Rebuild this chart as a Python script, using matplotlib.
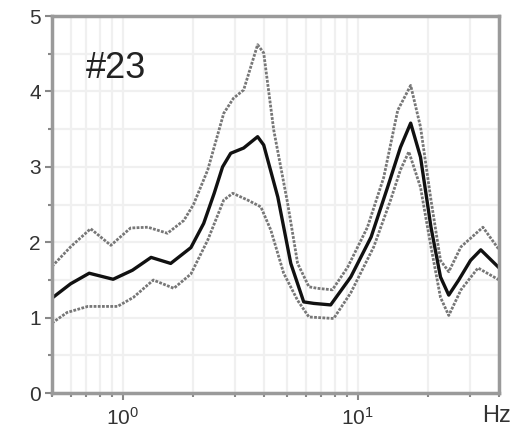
import matplotlib.pyplot as plt
import numpy as np
from matplotlib.ticker import MultipleLocator, LogLocator, NullFormatter

plt.rcParams['font.family'] = ['Liberation Sans', 'DejaVu Sans']

# mean H/V curve
f_mean = [0.5, 0.6, 0.72, 0.91, 1.1, 1.32, 1.6, 1.95, 2.21, 2.45, 2.66, 2.88, 3.27,
          3.75, 3.98, 4.57, 5.19, 5.89, 6.5, 7.67, 9.34, 11.4, 13.4, 15.2, 16.8,
          18.5, 20.5, 22.5, 24.4, 26.9, 30.2, 33.4, 40]
a_mean = [1.26, 1.45, 1.59, 1.51, 1.63, 1.80, 1.72, 1.93, 2.25, 2.65, 3.00, 3.18, 3.25,
          3.40, 3.29, 2.60, 1.72, 1.21, 1.19, 1.17, 1.54, 2.07, 2.73, 3.26, 3.58,
          3.13, 2.20, 1.54, 1.30, 1.50, 1.76, 1.90, 1.66]

# mean + std
f_up = [0.5, 0.6, 0.73, 0.89, 1.08, 1.28, 1.55, 1.82, 2.0, 2.3, 2.69, 2.96, 3.27,
        3.75, 3.98, 4.39, 5.03, 5.55, 6.2, 6.74, 7.8, 9.06, 11.0, 12.9, 14.8,
        16.8, 18.5, 20.5, 22.5, 24.4, 27.5, 34.1, 40]
a_up = [1.68, 1.94, 2.18, 1.96, 2.19, 2.20, 2.12, 2.29, 2.50, 2.96, 3.71, 3.91, 4.02,
        4.62, 4.51, 3.49, 2.52, 1.72, 1.41, 1.39, 1.37, 1.67, 2.20, 2.86, 3.75,
        4.08, 3.53, 2.56, 1.76, 1.61, 1.94, 2.20, 1.90]

# mean - std
f_lo = [0.5, 0.58, 0.71, 0.95, 1.11, 1.35, 1.65, 1.95, 2.3, 2.69, 2.94, 3.4, 3.87,
        4.27, 4.84, 5.55, 6.2, 7.9, 9.34, 11.7, 13.8, 15.2, 16.5, 18.5, 20.5,
        22.5, 24.4, 27.5, 32.5, 40]
a_lo = [0.93, 1.07, 1.15, 1.15, 1.27, 1.50, 1.39, 1.58, 2.03, 2.56, 2.65, 2.56, 2.47,
        2.16, 1.59, 1.23, 1.01, 0.99, 1.33, 1.94, 2.56, 2.96, 3.20, 2.73, 1.94,
        1.27, 1.03, 1.37, 1.66, 1.50]

fig = plt.figure(figsize=(5.2, 4.33), dpi=100)
ax = fig.add_axes([0.1, 0.092, 0.86, 0.871])

ax.plot(f_up, a_up, color='#777777', lw=2.0, ls=(0, (1, 0.5)), solid_joinstyle='round')
ax.plot(f_lo, a_lo, color='#777777', lw=2.0, ls=(0, (1, 0.5)), solid_joinstyle='round')
ax.plot(f_mean, a_mean, color='#111111', lw=2.4, solid_joinstyle='round')

ax.set_xscale('log')
ax.set_xlim(0.5, 40)
ax.set_ylim(0, 5)
ax.yaxis.set_major_locator(MultipleLocator(1))
ax.yaxis.set_minor_locator(MultipleLocator(0.5))
ax.xaxis.set_major_locator(LogLocator(base=10))
ax.xaxis.set_minor_locator(LogLocator(base=10, subs=np.arange(2, 10)))
ax.xaxis.set_minor_formatter(NullFormatter())

ax.grid(True, which='both', color='#f0f0f0', lw=1.6)
ax.set_axisbelow(True)
for s in ax.spines.values():
    s.set_color('#9a9a9a')
    s.set_linewidth(2.5)

ax.tick_params(which='major', direction='out', length=5, width=1.5, color='#888888',
               labelsize=15, labelcolor='#333333', pad=3)
ax.tick_params(axis='x', which='major', pad=5)
ax.tick_params(which='minor', direction='out', length=3, width=1.5, color='#888888')

ax.text(0.7, 4.31, '#23', fontsize=26, color='#222222', va='center', ha='left')
ax.text(0.995, -0.061, 'Hz', transform=ax.transAxes, fontsize=17, color='#333333',
        ha='center', va='center')

fig.savefig('out.png', dpi=100)
